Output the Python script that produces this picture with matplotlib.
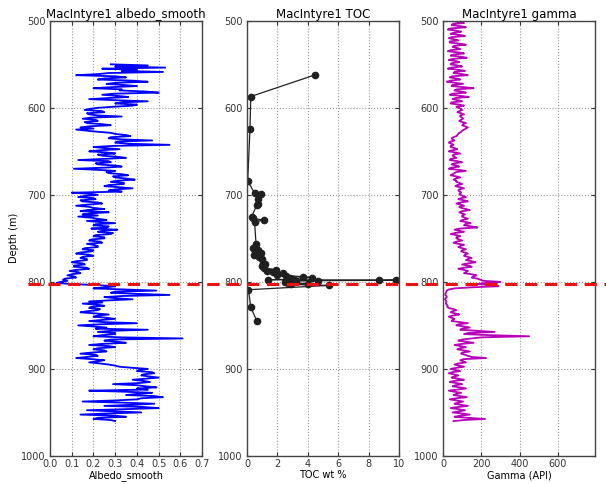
import matplotlib
matplotlib.use("Agg")
import matplotlib.pyplot as plt
import matplotlib.transforms as mtransforms
from matplotlib.lines import Line2D
import numpy as np

# albedo_smooth, sampled every 1.25 m from 550 to 960 m
albedo_depth = np.arange(550, 960.01, 1.25)
albedo = [
    0.28, 0.45, 0.30, 0.53, 0.24, 0.40, 0.33, 0.52, 0.27, 0.22, 0.12, 0.30, 0.35, 0.25, 0.22, 0.38, 0.45, 0.30, 0.26, 0.34,
    0.40, 0.28, 0.20, 0.33, 0.32, 0.44, 0.50, 0.29, 0.24, 0.31, 0.36, 0.27, 0.18, 0.30, 0.45, 0.33, 0.30, 0.40, 0.38, 0.29,
    0.22, 0.18, 0.16, 0.24, 0.25, 0.17, 0.18, 0.22, 0.33, 0.19, 0.15, 0.21, 0.22, 0.16, 0.17, 0.24, 0.28, 0.18, 0.14, 0.20,
    0.12, 0.17, 0.22, 0.28, 0.30, 0.35, 0.37, 0.28, 0.27, 0.33, 0.47, 0.31, 0.30, 0.36, 0.55, 0.29, 0.20, 0.25, 0.32, 0.23,
    0.18, 0.26, 0.30, 0.22, 0.24, 0.31, 0.35, 0.24, 0.13, 0.27, 0.28, 0.21, 0.22, 0.30, 0.33, 0.25, 0.11, 0.22, 0.30, 0.26,
    0.27, 0.33, 0.36, 0.29, 0.30, 0.35, 0.39, 0.31, 0.28, 0.34, 0.34, 0.27, 0.25, 0.32, 0.38, 0.30, 0.27, 0.33, 0.10, 0.18,
    0.22, 0.16, 0.13, 0.20, 0.21, 0.14, 0.15, 0.22, 0.24, 0.17, 0.12, 0.18, 0.20, 0.25, 0.17, 0.14, 0.27, 0.19, 0.15, 0.22,
    0.13, 0.19, 0.22, 0.26, 0.17, 0.23, 0.30, 0.21, 0.20, 0.27, 0.26, 0.19, 0.31, 0.24, 0.22, 0.29, 0.28, 0.21, 0.20, 0.25,
    0.25, 0.19, 0.18, 0.23, 0.24, 0.17, 0.20, 0.22, 0.22, 0.16, 0.15, 0.20, 0.19, 0.14, 0.12, 0.18, 0.20, 0.15, 0.14, 0.17,
    0.17, 0.12, 0.10, 0.15, 0.16, 0.11, 0.11, 0.17, 0.18, 0.12, 0.09, 0.13, 0.14, 0.10, 0.08, 0.11, 0.12, 0.07, 0.06, 0.08,
    0.05, 0.03, 0.10, 0.22, 0.30, 0.26, 0.20, 0.34, 0.49, 0.30, 0.28, 0.40, 0.55, 0.33, 0.25, 0.30, 0.38, 0.27, 0.18, 0.24,
    0.15, 0.22, 0.25, 0.19, 0.18, 0.23, 0.22, 0.17, 0.14, 0.21, 0.27, 0.22, 0.20, 0.26, 0.30, 0.24, 0.18, 0.25, 0.40, 0.23,
    0.13, 0.20, 0.26, 0.21, 0.45, 0.28, 0.22, 0.30, 0.30, 0.24, 0.20, 0.33, 0.61, 0.28, 0.25, 0.31, 0.35, 0.24, 0.18, 0.27,
    0.30, 0.22, 0.20, 0.25, 0.26, 0.19, 0.14, 0.21, 0.22, 0.17, 0.12, 0.19, 0.25, 0.22, 0.18, 0.23, 0.27, 0.30, 0.32, 0.38,
    0.45, 0.41, 0.40, 0.47, 0.48, 0.43, 0.42, 0.46, 0.50, 0.44, 0.38, 0.43, 0.46, 0.41, 0.29, 0.40, 0.44, 0.49, 0.40, 0.45,
    0.18, 0.35, 0.47, 0.40, 0.35, 0.48, 0.52, 0.42, 0.40, 0.30, 0.15, 0.33, 0.48, 0.38, 0.25, 0.43, 0.50, 0.35, 0.17, 0.30,
    0.42, 0.26, 0.14, 0.30, 0.35, 0.22, 0.20, 0.28, 0.30,
]

# TOC samples
toc_depth = [562, 587, 624, 684, 698, 698.5, 705, 710, 712, 725, 727, 729, 731,
             757, 761, 763, 765, 767, 769, 771,
             774, 778, 780, 782, 784, 786, 787, 789, 790,
             792, 793, 794, 795, 796, 797, 797.5, 798, 798.3, 798.6,
             799, 800, 801, 802, 803, 804, 809, 829, 845]
toc = [4.5, 0.25, 0.2, 0.05, 0.5, 0.9, 0.75, 0.7, 0.65, 0.3, 0.4, 1.1, 0.5,
       0.6, 0.4, 0.7, 0.5, 0.9, 0.45, 0.8,
       1.0, 1.05, 1.2, 1.0, 1.15, 1.9, 1.3, 1.7, 2.4,
       2.0, 2.6, 3.7, 4.3, 2.8, 3.0, 1.4, 9.8, 8.7, 4.7,
       3.2, 2.5, 2.7, 4.0, 2.9, 5.4, 0.1, 0.25, 0.65]

# gamma ray, sampled every 1.25 m from 500 to 960 m
gamma_depth = np.arange(500, 960.01, 1.25)
gamma = [
    30, 85, 110, 50, 45, 95, 120, 40, 25, 70, 95, 55, 40, 90, 115, 45, 30, 60, 80, 35,
    35, 90, 120, 60, 50, 75, 90, 40, 25, 80, 110, 55, 40, 95, 125, 50, 30, 70, 85, 45,
    40, 75, 100, 45, 25, 80, 115, 60, 55, 100, 130, 50, 35, 70, 90, 40, 20, 65, 105, 50,
    45, 110, 160, 70, 60, 95, 120, 50, 35, 90, 135, 65, 50, 80, 100, 45, 40, 85, 110, 70,
    80, 95, 100, 85, 75, 95, 110, 90, 90, 100, 105, 95, 85, 100, 120, 105, 100, 115, 130, 120,
    110, 100, 95, 85, 80, 75, 70, 55, 45, 50, 60, 40, 30, 45, 55, 40, 40, 60, 75, 50,
    30, 65, 90, 55, 50, 60, 70, 40, 35, 75, 100, 60, 45, 70, 85, 45, 30, 80, 120, 70,
    60, 50, 40, 70, 90, 65, 55, 70, 70, 85, 100, 75, 65, 90, 110, 85, 80, 90, 95, 85,
    90, 105, 120, 95, 80, 110, 130, 90, 70, 95, 110, 85, 95, 120, 140, 100, 85, 100, 115, 100,
    100, 115, 130, 105, 90, 120, 145, 115, 110, 150, 180, 90, 60, 85, 110, 65, 40, 70, 90, 70,
    70, 85, 100, 70, 55, 80, 110, 90, 80, 100, 120, 100, 95, 115, 130, 115, 110, 130, 150, 130,
    120, 150, 170, 130, 100, 130, 150, 110, 80, 110, 130, 120, 110, 150, 175, 160, 150, 180, 195, 210,
    300, 220, 180, 260, 290, 150, 60, 30, 20, 18, 15, 12, 12, 18, 20, 14, 10, 15, 18, 16,
    15, 20, 25, 22, 30, 55, 70, 50, 40, 65, 85, 50, 30, 45, 60, 50, 45, 90, 130, 80,
    70, 110, 140, 100, 90, 180, 270, 130, 110, 250, 450, 200, 150, 100, 80, 120, 160, 100, 60, 90,
    120, 90, 75, 110, 140, 100, 95, 115, 130, 150, 225, 110, 90, 105, 120, 80, 60, 85, 110, 70,
    40, 65, 90, 50, 30, 55, 80, 60, 45, 80, 110, 60, 35, 70, 100, 65, 50, 90, 120, 75,
    30, 60, 95, 70, 55, 90, 125, 70, 35, 70, 105, 80, 60, 95, 130, 80, 40, 80, 115, 85,
    50, 100, 140, 90, 60, 130, 220, 110, 55,
]

formation_top = 802

plt.rcParams['font.family'] = 'DejaVu Sans'
fig = plt.figure(figsize=(6.06, 4.84), dpi=100)

left = [0.0825, 0.4075, 0.731]
w, b, h = 0.251, 0.058, 0.899
axes = [fig.add_axes([l, b, w, h]) for l in left]

axes[0].plot(albedo, albedo_depth, color='#0000ff', lw=1.3)
axes[0].set_xlim(0, 0.7)
axes[0].set_xticks(np.arange(0, 0.71, 0.1))
axes[0].set_title('MacIntyre1 albedo_smooth', fontsize=8.5, pad=2)
axes[0].set_xlabel('Albedo_smooth', fontsize=7, labelpad=1)
axes[0].set_ylabel('Depth (m)', fontsize=7, labelpad=2)

axes[1].plot(toc, toc_depth, color='#202020', lw=0.9, marker='o', ms=4.5)
axes[1].set_xlim(0, 10)
axes[1].set_xticks([0, 2, 4, 6, 8, 10])
axes[1].set_title('MacIntyre1 TOC', fontsize=8.5, pad=2)
axes[1].set_xlabel('TOC wt %', fontsize=7, labelpad=1)

axes[2].plot(gamma, gamma_depth, color='#b800b8', lw=1.3)
axes[2].set_xlim(0, 795)
axes[2].set_xticks([0, 200, 400, 600])
axes[2].set_title('MacIntyre1 gamma', fontsize=8.5, pad=2)
axes[2].set_xlabel('Gamma (API)', fontsize=7, labelpad=1)

for ax in axes:
    ax.set_ylim(1000, 500)
    ax.set_yticks(np.arange(500, 1001, 100))
    ax.grid(True, linestyle=':', color='#999999', lw=0.8)
    ax.tick_params(direction='in', top=True, right=True, labelsize=7,
                   length=3, colors='#333333', pad=2)
    ax.tick_params(axis='y', pad=3)
    for s in ax.spines.values():
        s.set_color('#444444')
        s.set_linewidth(1.0)

# formation top drawn across the whole figure
trans = mtransforms.blended_transform_factory(fig.transFigure, axes[0].transData)
fig.add_artist(Line2D([0.047, 1.0], [formation_top, formation_top], transform=trans,
                      color='#ee1111', lw=2.2, linestyle=(0, (4, 2.5))))

fig.savefig('out.png', dpi=100)
